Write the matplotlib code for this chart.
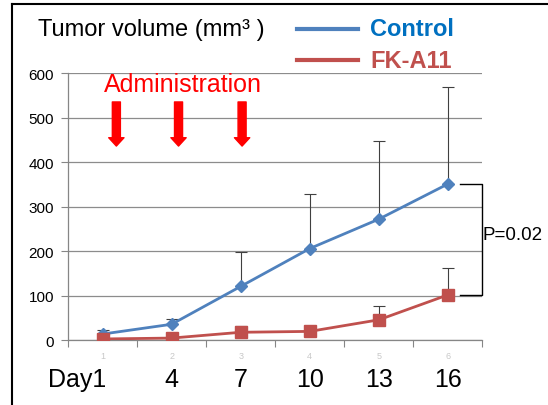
import matplotlib.pyplot as plt
from matplotlib.lines import Line2D
from matplotlib.patches import FancyArrowPatch
from matplotlib.transforms import blended_transform_factory

plt.rcParams['font.family'] = ['Liberation Sans', 'DejaVu Sans']

# data
categories = [1, 2, 3, 4, 5, 6]
day_labels = ['Day1', '4', '7', '10', '13', '16']
control = [14, 36, 121, 206, 272, 351]
control_err = [9, 12, 78, 123, 175, 218]
fk = [3, 5, 18, 20, 46, 102]
fk_err = [3, 4, 13, 12, 32, 61]
admin_pos = [1.2, 2.1, 3.02]

blue = '#4F81BD'
red = '#C0504D'

fig = plt.figure(figsize=(5.48, 4.06), dpi=100)
ax = fig.add_axes([68/548, 1 - 341.3/406, 414.5/548, (341.3 - 74)/406])

ax.errorbar(categories, control, yerr=[[0]*6, control_err], fmt='none',
            ecolor='#404040', elinewidth=0.8, capsize=4, capthick=0.8, zorder=2)
ax.errorbar(categories, fk, yerr=[[0]*6, fk_err], fmt='none',
            ecolor='#404040', elinewidth=0.8, capsize=4, capthick=0.8, zorder=2)
ax.plot(categories, control, color=blue, lw=2, marker='D', ms=6.5,
        mfc=blue, mec=blue, zorder=3)
ax.plot(categories, fk, color=red, lw=2, marker='s', ms=8.5,
        mfc=red, mec=red, zorder=3)

ax.set_xlim(0.5, 6.5)
ax.set_ylim(0, 600)
ax.set_yticks(range(0, 601, 100))
ax.tick_params(axis='y', labelsize=11, length=5, color='#868686', pad=5)
ax.grid(axis='y', color='#8C8C8C', lw=0.9)
ax.set_axisbelow(True)
for s in ['top', 'right']:
    ax.spines[s].set_visible(False)
for s in ['left', 'bottom']:
    ax.spines[s].set_color('#868686')
    ax.spines[s].set_linewidth(0.9)

# ticks on category boundaries, small grey labels under categories
ax.set_xticks([c - 0.5 for c in categories] + [6.5])
ax.set_xticklabels([])
ax.tick_params(axis='x', which='major', length=5, color='#868686', direction='out')
ax.set_xticks(categories, minor=True)
ax.set_xticklabels([str(c) for c in categories], minor=True)
ax.tick_params(axis='x', which='minor', length=0, labelsize=6.5, labelcolor='#C8C8C8', pad=8)

# day labels, baseline about 387 px from top
trans = blended_transform_factory(ax.transData, ax.transAxes)
ypos = -(387 - 341.3) / (341.3 - 74)
for c, lab in zip(categories, day_labels):
    if lab.startswith('Day'):
        ax.text(c + 0.05, ypos, lab, transform=trans, ha='right', va='baseline', fontsize=18)
    else:
        ax.text(c, ypos, lab, transform=trans, ha='center', va='baseline', fontsize=18)

# administration arrows
for x in admin_pos:
    arr = FancyArrowPatch((x, 535), (x, 436),
                          arrowstyle='simple,tail_width=0.58,head_width=1.1,head_length=0.6',
                          mutation_scale=10, color='#FF0000', shrinkA=0, shrinkB=0,
                          clip_on=False, zorder=4)
    ax.add_patch(arr)
fig.text(182.5/548, 1 - 85/406, 'Administration', color='#FF0000', fontsize=18,
         ha='center', va='center')

# significance bracket
ax.plot([6.17, 6.49, 6.49, 6.17], [control[-1], control[-1], fk[-1], fk[-1]],
        color='black', lw=1, clip_on=False)
ax.text(6.5, 238, 'P=0.02', fontsize=13.5, ha='left', va='center', clip_on=False)

# title and legend
fig.text(38/548, 1 - 30/406, 'Tumor volume (mm\u00b3 )', fontsize=17, ha='left', va='center')
fig.add_artist(Line2D([297/548, 358/548], [1 - 30/406, 1 - 30/406], color=blue, lw=3))
fig.add_artist(Line2D([297/548, 358/548], [1 - 61/406, 1 - 61/406], color=red, lw=3))
fig.text(370/548, 1 - 30/406, 'Control', color='#0070C0', fontsize=17,
         fontweight='bold', ha='left', va='center')
fig.text(370/548, 1 - 61/406, 'FK-A11', color=red, fontsize=17,
         fontweight='bold', ha='left', va='center')

# frame
fig.add_artist(Line2D([11.5/548, 11.5/548], [0, 1 - 4.5/406], color='black', lw=1.5))
fig.add_artist(Line2D([11.5/548, 1], [1 - 4.5/406, 1 - 4.5/406], color='black', lw=1.5))

fig.savefig('out.png', dpi=100)
